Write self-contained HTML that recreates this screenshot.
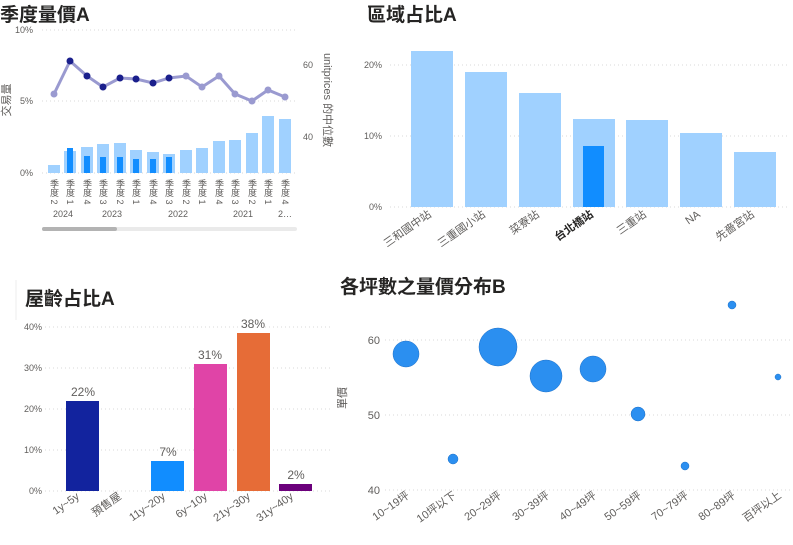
<!DOCTYPE html>
<html><head><meta charset="utf-8"><style>
body{margin:0;background:#fff;width:793px;height:540px;overflow:hidden}
svg{font-family:"Liberation Sans","Noto Sans CJK TC",sans-serif}
.t{font-size:19px;font-weight:bold;fill:#252423}
.a{font-size:9px;fill:#605e5c}
.x{font-size:11px;fill:#605e5c}
.g{stroke:#d8d8d8;stroke-dasharray:1,3;stroke-width:1}
</style></head><body>
<svg width="793" height="540" viewBox="0 0 793 540">
<!-- Chart 1 -->
<text class="t" x="0" y="21">季度量價A</text>
<line class="g" x1="42" y1="30" x2="296" y2="30"/><line class="g" x1="42" y1="101" x2="296" y2="101"/><line class="g" x1="42" y1="173" x2="296" y2="173"/>
<text class="a" x="33" y="33" text-anchor="end">10%</text><text class="a" x="33" y="104" text-anchor="end">5%</text><text class="a" x="33" y="176" text-anchor="end">0%</text>
<text class="a" x="303" y="68">60</text><text class="a" x="303" y="140">40</text>
<text class="x" transform="translate(10,100) rotate(-90)" text-anchor="middle">交易量</text>
<text class="x" transform="translate(324,100) rotate(90)" text-anchor="middle" fill="#252423">unitprices 的中位數</text>
<g fill="#a0d1ff">
<rect x="48" y="165" width="12" height="8"/><rect x="64" y="151" width="12" height="22"/><rect x="81" y="147" width="12" height="26"/><rect x="97" y="144" width="12" height="29"/><rect x="114" y="143" width="12" height="30"/><rect x="130" y="150" width="12" height="23"/><rect x="147" y="152" width="12" height="21"/><rect x="163" y="154" width="12" height="19"/><rect x="180" y="150" width="12" height="23"/><rect x="196" y="148" width="12" height="25"/><rect x="213" y="141" width="12" height="32"/><rect x="229" y="140" width="12" height="33"/><rect x="246" y="133" width="12" height="40"/><rect x="262" y="116" width="12" height="57"/><rect x="279" y="119" width="12" height="54"/>
</g>
<g fill="#118dff">
<rect x="67" y="148" width="6" height="25"/><rect x="84" y="156" width="6" height="17"/><rect x="100" y="157" width="6" height="16"/><rect x="117" y="157" width="6" height="16"/><rect x="133" y="159" width="6" height="14"/><rect x="150" y="159" width="6" height="14"/><rect x="166" y="157" width="6" height="16"/>
</g>
<polyline fill="none" stroke="#9a9ad0" stroke-width="3" points="54,94 70,61 87,76 103,87 120,78 136,79 153,83 169,78 186,76 202,87 219,76 235,94 252,101 268,90 285,97"/>
<g fill="#9a9ad0"><circle cx="54" cy="94" r="3.5"/><circle cx="186" cy="76" r="3.5"/><circle cx="202" cy="87" r="3.5"/><circle cx="219" cy="76" r="3.5"/><circle cx="235" cy="94" r="3.5"/><circle cx="252" cy="101" r="3.5"/><circle cx="268" cy="90" r="3.5"/><circle cx="285" cy="97" r="3.5"/></g>
<g fill="#1a1f8c"><circle cx="70" cy="61" r="3.5"/><circle cx="87" cy="76" r="3.5"/><circle cx="103" cy="87" r="3.5"/><circle cx="120" cy="78" r="3.5"/><circle cx="136" cy="79" r="3.5"/><circle cx="153" cy="83" r="3.5"/><circle cx="169" cy="78" r="3.5"/></g>
<g class="a" font-size="8" writing-mode="tb">
<text x="54" y="179">季度 2</text><text x="70" y="179">季度 1</text><text x="87" y="179">季度 4</text><text x="103" y="179">季度 3</text><text x="120" y="179">季度 2</text><text x="136" y="179">季度 1</text><text x="153" y="179">季度 4</text><text x="169" y="179">季度 3</text><text x="186" y="179">季度 2</text><text x="202" y="179">季度 1</text><text x="219" y="179">季度 4</text><text x="235" y="179">季度 3</text><text x="252" y="179">季度 2</text><text x="268" y="179">季度 1</text><text x="285" y="179">季度 4</text>
</g>
<g class="a"><text x="63" y="217" text-anchor="middle">2024</text><text x="112" y="217" text-anchor="middle">2023</text><text x="178" y="217" text-anchor="middle">2022</text><text x="243" y="217" text-anchor="middle">2021</text><text x="285" y="217" text-anchor="middle">2…</text></g>
<rect x="42" y="227" width="255" height="4" rx="2" fill="#eaeaea"/><rect x="42" y="227" width="75" height="4" rx="2" fill="#b3b3b3"/>
<!-- Chart 2 -->
<text class="t" x="367" y="21">區域占比A</text>
<line class="g" x1="390" y1="65" x2="790" y2="65"/><line class="g" x1="390" y1="136" x2="790" y2="136"/><line class="g" x1="390" y1="207" x2="790" y2="207"/>
<text class="a" x="382" y="68" text-anchor="end">20%</text><text class="a" x="382" y="139" text-anchor="end">10%</text><text class="a" x="382" y="210" text-anchor="end">0%</text>
<g fill="#a0d1ff"><rect x="411" y="51" width="42" height="156"/><rect x="465" y="72" width="42" height="135"/><rect x="519" y="93" width="42" height="114"/><rect x="573" y="119" width="42" height="88"/><rect x="626" y="120" width="42" height="87"/><rect x="680" y="133" width="42" height="74"/><rect x="734" y="152" width="42" height="55"/></g>
<rect x="583" y="146" width="21" height="61" fill="#118dff"/>
<g class="x" text-anchor="end" font-size="12">
<text transform="translate(432,216) rotate(-35)">三和國中站</text><text transform="translate(486,216) rotate(-35)">三重國小站</text><text transform="translate(540,216) rotate(-35)">菜寮站</text><text transform="translate(594,216) rotate(-35)" fill="#252423" font-weight="bold">台北橋站</text><text transform="translate(647,216) rotate(-35)">三重站</text><text transform="translate(701,216) rotate(-35)">NA</text><text transform="translate(755,216) rotate(-35)">先嗇宮站</text>
</g>
<!-- Chart 3 -->
<line x1="16" y1="280" x2="16" y2="320" stroke="#eee"/>
<text class="t" x="25" y="305">屋齡占比A</text>
<line class="g" x1="45" y1="327" x2="330" y2="327"/><line class="g" x1="45" y1="368" x2="330" y2="368"/><line class="g" x1="45" y1="409" x2="330" y2="409"/><line class="g" x1="45" y1="450" x2="330" y2="450"/><line class="g" x1="45" y1="491" x2="330" y2="491"/>
<g class="a" text-anchor="end"><text x="42" y="330">40%</text><text x="42" y="371">30%</text><text x="42" y="412">20%</text><text x="42" y="453">10%</text><text x="42" y="494">0%</text></g>
<rect x="66" y="401" width="33" height="90" fill="#12239e"/><rect x="151" y="461" width="33" height="30" fill="#118dff"/><rect x="194" y="364" width="33" height="127" fill="#e044a7"/><rect x="237" y="333" width="33" height="158" fill="#e66c37"/><rect x="279" y="484" width="33" height="7" fill="#6b007b"/>
<g font-size="12" fill="#605e5c" text-anchor="middle"><text x="83" y="396">22%</text><text x="168" y="456">7%</text><text x="210" y="359">31%</text><text x="253" y="328">38%</text><text x="296" y="479">2%</text></g>
<g class="x" text-anchor="end"><text transform="translate(80,498) rotate(-35)">1y~5y</text><text transform="translate(122,498) rotate(-35)">預售屋</text><text transform="translate(166,498) rotate(-35)">11y~20y</text><text transform="translate(208,498) rotate(-35)">6y~10y</text><text transform="translate(251,498) rotate(-35)">21y~30y</text><text transform="translate(294,498) rotate(-35)">31y~40y</text></g>
<!-- Chart 4 -->
<text class="t" x="340" y="293">各坪數之量價分布B</text>
<line class="g" x1="385" y1="340" x2="790" y2="340"/><line class="g" x1="385" y1="415" x2="790" y2="415"/><line class="g" x1="385" y1="490" x2="790" y2="490"/>
<g class="x" text-anchor="end" font-size="12"><text x="380" y="344">60</text><text x="380" y="419">50</text><text x="380" y="494">40</text></g>
<text class="x" transform="translate(346,398) rotate(-90)" text-anchor="middle" fill="#252423">單價</text>
<g fill="#2b8ff0" stroke="#1c6fc7" stroke-width="0.5"><circle cx="406" cy="354" r="13"/><circle cx="453" cy="459" r="5"/><circle cx="498" cy="347" r="19"/><circle cx="546" cy="376" r="16"/><circle cx="593" cy="369" r="13"/><circle cx="638" cy="414" r="7"/><circle cx="685" cy="466" r="4"/><circle cx="732" cy="305" r="4"/><circle cx="778" cy="377" r="3"/></g>
<g class="x" text-anchor="end"><text transform="translate(410,497) rotate(-35)">10~19坪</text><text transform="translate(457,497) rotate(-35)">10坪以下</text><text transform="translate(502,497) rotate(-35)">20~29坪</text><text transform="translate(550,497) rotate(-35)">30~39坪</text><text transform="translate(597,497) rotate(-35)">40~49坪</text><text transform="translate(642,497) rotate(-35)">50~59坪</text><text transform="translate(689,497) rotate(-35)">70~79坪</text><text transform="translate(736,497) rotate(-35)">80~89坪</text><text transform="translate(782,497) rotate(-35)">百坪以上</text></g>
</svg>
</body></html>
